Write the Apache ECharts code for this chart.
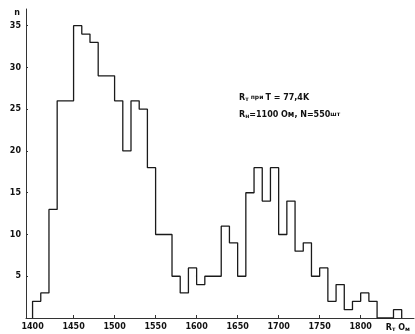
<!DOCTYPE html>
<html>
<head>
<meta charset="utf-8">
<script src="https://cdn.jsdelivr.net/npm/echarts@6/dist/echarts.min.js"></script>
<style>
  html, body { margin: 0; padding: 0; background: #fff; }
  #chart { width: 415px; height: 334px; }
</style>
</head>
<body>
<div id="chart"></div>
<script>
// Histogram: resistance Rт (Ом) bins of width 10, counts n
const binStarts = [1400,1410,1420,1430,1440,1450,1460,1470,1480,1490,
                   1500,1510,1520,1530,1540,1550,1560,1570,1580,1590,
                   1600,1610,1620,1630,1640,1650,1660,1670,1680,1690,
                   1700,1710,1720,1730,1740,1750,1760,1770,1780,1790,
                   1800,1810,1820,1830,1840];
const counts    = [2,3,13,26,26,35,34,33,29,29,
                   26,20,26,25,18,10,10,5,3,6,
                   4,5,5,11,9,5,15,18,14,18,
                   10,14,8,9,5,6,2,4,1,2,
                   3,2,0,0,1];
const binWidth = 10;
const xTickValues = [1400,1450,1500,1550,1600,1650,1700,1750,1800];
const yTickValues = [5,10,15,20,25,30,35];

const pts = [[binStarts[0], 0]];
binStarts.forEach((b, i) => pts.push([b, counts[i]]));
const lastEdge = binStarts[binStarts.length - 1] + binWidth;
pts.push([lastEdge, counts[counts.length - 1]]);
pts.push([lastEdge, 0]);

const FONT = 'DejaVu Sans';
const chart = echarts.init(document.getElementById('chart'), null, {renderer: 'canvas'});
chart.setOption({
  animation: false,
  backgroundColor: '#fff',
  grid: { left: 26, right: 1, top: 9, bottom: 16, containLabel: false },
  xAxis: {
    type: 'value', min: 1392, max: 1865,
    splitLine: { show: false },
    axisLine: { onZero: false, lineStyle: { color: '#333', width: 1 } },
    axisTick: { inside: true, length: 3, customValues: xTickValues, lineStyle: { color: '#333' } },
    axisLabel: { customValues: xTickValues, formatter: v => String(v), margin: 5, color: '#111', fontSize: 8, fontWeight: 'bold', fontFamily: FONT },
    name: '{r|R}{s|т}{r| О}{s|м}',
    nameLocation: 'end', nameGap: -4,
    nameTextStyle: {
      align: 'right', verticalAlign: 'top', padding: [5, 0, 0, 0],
      rich: {
        r: { fontSize: 8, fontWeight: 'bold', fontFamily: FONT, color: '#111' },
        s: { fontSize: 6, fontWeight: 'bold', fontFamily: FONT, color: '#111', padding: [3, 0, 0, 0] }
      }
    }
  },
  yAxis: {
    type: 'value', min: 0, max: 37,
    splitLine: { show: false },
    axisLine: { lineStyle: { color: '#333', width: 1 } },
    axisTick: { inside: true, length: 2, customValues: yTickValues, lineStyle: { color: '#333' } },
    axisLabel: { customValues: yTickValues, formatter: v => String(v), margin: 5, color: '#111', fontSize: 8, fontWeight: 'bold', fontFamily: FONT },
    name: 'n', nameLocation: 'end', nameGap: -4,
    nameTextStyle: { align: 'right', verticalAlign: 'middle', padding: [0, 6, 0, 0], fontSize: 8, fontWeight: 'bold', fontFamily: FONT, color: '#111' }
  },
  series: [{
    type: 'line', step: 'end', data: pts, symbol: 'none',
    lineStyle: { color: '#1a1a1a', width: 1.3 }
  }],
  graphic: [{
    type: 'text', left: 239, top: 89,
    style: {
      text: '{r|R}{s|т}{m| при }{r|T = 77,4K}\n{r|R}{s|н}{r|=1100 Ом, N=550}{m|шт}',
      lineHeight: 17,
      rich: {
        r: { fontSize: 8, fontWeight: 'bold', fontFamily: FONT, fill: '#111', lineHeight: 17 },
        m: { fontSize: 6, fontWeight: 'bold', fontFamily: FONT, fill: '#111', lineHeight: 17 },
        s: { fontSize: 6, fontWeight: 'bold', fontFamily: FONT, fill: '#111', lineHeight: 17, padding: [4, 0, 0, 0] }
      }
    }
  }]
});
</script>
</body>
</html>
